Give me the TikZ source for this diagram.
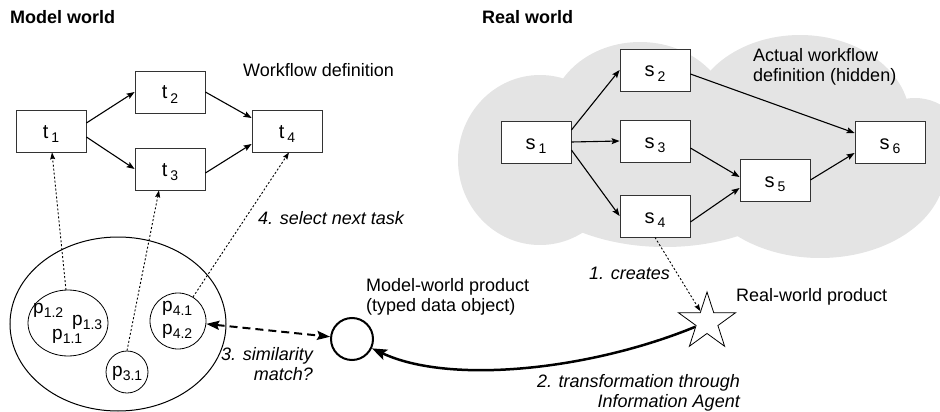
\documentclass[tikz,border=0pt]{standalone}
\usepackage{fontspec}
\setmainfont{Liberation Sans}
\usetikzlibrary{arrows.meta,shapes.geometric}
\newcommand\tlab[2]{\smash{\raisebox{-7pt}{#1\hspace{3pt}\raisebox{-4.5pt}{\fontsize{14}{14}\selectfont #2}}}}
\newcommand\psub[1]{p\raisebox{-4pt}{\fontsize{14}{14}\selectfont #1}}
\definecolor{cloudgray}{HTML}{E4E4E4}
\tikzset{
  taskbox/.style={draw=black!80,line width=0.8pt,fill=white,minimum width=70pt,minimum height=42pt,inner sep=0pt,font=\fontsize{20}{22}\selectfont},
  flow/.style={line width=1.1pt,-{Stealth[length=8pt,width=6pt,inset=1.5pt]}},
  dotarrow/.style={line width=0.9pt,dash pattern=on 2pt off 2pt,-{Stealth[length=7pt,width=5pt,inset=1pt]}},
  lbl/.style={font=\fontsize{18}{20}\selectfont,inner sep=0pt},
  ilbl/.style={font=\fontsize{18}{20}\selectfont\itshape,inner sep=0pt},
  title/.style={font=\fontsize{18}{20}\selectfont\bfseries,inner sep=0pt},
  plbl/.style={font=\fontsize{19}{20}\selectfont,inner sep=0pt},
  pset/.style={draw,line width=0.8pt,ellipse,inner sep=0pt}
}
\begin{document}
\begin{tikzpicture}[x=1pt,y=-1pt]
\useasboundingbox (0,0) rectangle (940,412);
% cloud
\begin{scope}
\clip (0,0) rectangle (940,412);
\fill[cloudgray] (540,160) ellipse [x radius=82,y radius=85];
\fill[cloudgray] (640,118) ellipse [x radius=90,y radius=76];
\fill[cloudgray] (800,120) ellipse [x radius=110,y radius=85];
\fill[cloudgray] (820,170) ellipse [x radius=125,y radius=88];
\fill[cloudgray] (915,150) ellipse [x radius=52,y radius=52];
\fill[cloudgray] (665,160) ellipse [x radius=150,y radius=87];
\fill[cloudgray] (700,150) ellipse [x radius=120,y radius=70];
\end{scope}
% titles
\node[title,anchor=west] (mw) at (10,17) {Model world};
\node[title,anchor=west] (rw) at (482,17) {Real world};
\node[lbl,anchor=west] (wd) at (243,70) {Workflow definition};
\node[lbl,anchor=west,align=left] (awd) at (753,67) {Actual workflow\\definition (hidden)};
% model workflow
\node[taskbox] (t1) at (51,131) {\tlab{t}{1}};
\node[taskbox] (t2) at (170,92) {\tlab{t}{2}};
\node[taskbox] (t3) at (170,169) {\tlab{t}{3}};
\node[taskbox] (t4) at (287,131) {\tlab{t}{4}};
\draw[flow] ([yshift=8pt]t1.east) -- (t2.west);
\draw[flow] ([yshift=-6pt]t1.east) -- (t3.west);
\draw[flow] (t2.east) -- ([yshift=13pt]t4.west);
\draw[flow] ([yshift=-4pt]t3.east) -- ([yshift=-13pt]t4.west);
% real workflow
\node[taskbox] (s1) at (536,142) {\tlab{s}{1}};
\node[taskbox] (s2) at (655,70) {\tlab{s}{2}};
\node[taskbox] (s3) at (655,141) {\tlab{s}{3}};
\node[taskbox] (s4) at (655,216) {\tlab{s}{4}};
\node[taskbox] (s5) at (775,180) {\tlab{s}{5}};
\node[taskbox] (s6) at (890,142) {\tlab{s}{6}};
\draw[flow] ([yshift=12pt]s1.east) -- (s2.west);
\draw[flow] (s1.east) -- (s3.west);
\draw[flow] ([yshift=-8pt]s1.east) -- (s4.west);
\draw[flow] ([yshift=-4pt]s2.east) -- ([yshift=9pt]s6.west);
\draw[flow] ([yshift=-7pt]s3.east) -- ([yshift=3pt]s5.west);
\draw[flow] ([yshift=-6pt]s4.east) -- ([yshift=-8pt]s5.west);
\draw[flow] (s5.east) -- ([yshift=-11pt]s6.west);
% product sets
\node[draw,line width=1pt,ellipse,minimum width=216pt,minimum height=174pt,inner sep=0pt] (prod) at (118,324) {};
\node[pset,minimum width=80pt,minimum height=66pt] (p1) at (68,323) {};
\node[pset,minimum width=56pt,minimum height=56pt] (p4) at (178,321) {};
\node[pset,circle,minimum size=42pt] (p3) at (127,372) {};
\node[plbl,anchor=base west] (p12) at (33,313) {\psub{1.2}};
\node[plbl,anchor=base west] (p13) at (72,325) {\psub{1.3}};
\node[plbl,anchor=base west] (p11) at (52,339) {\psub{1.1}};
\node[plbl,anchor=base west] (p41) at (162,311) {\psub{4.1}};
\node[plbl,anchor=base west] (p42) at (162,334) {\psub{4.2}};
\node[plbl,anchor=base west] (p31) at (112,376) {\psub{3.1}};
\coordinate (p1top) at (66,290);
\coordinate (p4top) at (193,297);
\draw[dotarrow] (p1top) -- ([xshift=1pt]t1.south);
\draw[dotarrow] (p3.north) -- ([xshift=-11pt]t3.south);
\draw[dotarrow] (p4top) -- ([xshift=2pt]t4.south);
\node[ilbl,anchor=west] (sel) at (258,218) {4. select next task};
% model-world product
\node[draw,circle,line width=2pt,minimum size=42pt,inner sep=0pt] (mwp) at (352,339) {};
\node[lbl,anchor=west,align=left] (mwpl) at (366,297) {Model-world product\\(typed data object)};
\draw[line width=2pt,dash pattern=on 8pt off 5pt,{Stealth[length=13pt,width=9pt,inset=2pt]}-{Stealth[length=13pt,width=9pt,inset=2pt]}] (p4) -- (mwp);
\node[ilbl,anchor=east,align=right] (sim) at (313,364) {3. similarity\\match?};
% real-world product
\node[draw,star,star points=5,star point ratio=2.618,minimum size=60pt,inner sep=0pt,line width=0.8pt] (star) at (707,322) {};
\node[lbl,anchor=west] (rwp) at (736,297) {Real-world product};
\draw[dotarrow] (s4.south) -- (star);
\node[ilbl,anchor=west] (cr) at (589,273) {1. creates};
\draw[line width=2.5pt,-{Stealth[length=15pt,width=11pt,inset=3pt]}] (star) .. controls (590,370) and (450,385) .. (mwp);
\node[ilbl,anchor=east,align=right] (tr) at (740,393) {2. transformation through\\Information Agent};
\end{tikzpicture}
\end{document}
